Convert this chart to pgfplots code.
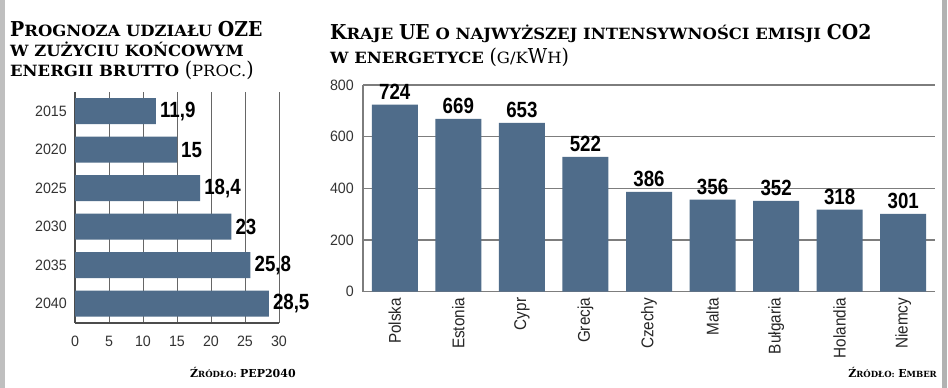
\documentclass[border=0pt]{standalone}
\usepackage{pgfplots}
\pgfplotsset{compat=1.18}
\usepackage{fontspec}
\setmainfont{Liberation Sans}
\newfontfamily\titlebig[FakeStretch=0.92]{DejaVu Serif}
\newfontfamily\titlesc[FakeStretch=1.06]{DejaVu Serif}
\newfontfamily\srcfont{DejaVu Serif}
\newfontfamily\tickfont[FakeStretch=0.95]{Liberation Sans}
\newfontfamily\numfont[FakeStretch=0.85]{Liberation Sans}
\newfontfamily\catfont[FakeStretch=0.9]{Liberation Sans}
\definecolor{barblue}{RGB}{79,108,138}
\definecolor{gridgray}{RGB}{125,125,125}
\newcommand{\Bg}[1]{{\titlebig\fontsize{20.5}{20}\selectfont #1}}
\newcommand{\Sc}[1]{{\titlesc\fontsize{15.5}{15}\selectfont #1}}
\newcommand{\TS}{\titlesc\fontsize{15.5}{15}\selectfont\bfseries}
\newcommand{\SBg}[1]{{\fontsize{11}{11}\selectfont #1}}
\newcommand{\SSc}[1]{{\fontsize{8.5}{8.5}\selectfont #1}}
\begin{document}
\begin{tikzpicture}[x=1pt,y=1pt]
\fill[white] (0,0) rectangle (948,388);
\useasboundingbox (0,0) rectangle (948,388);
\fill[black!25] (0,0) rectangle (5,388);
\fill[black!30] (942,0) rectangle (947,388);
% titles
\node[anchor=base west, inner sep=0pt] at (10,351) {\TS \Bg{P}\Sc{ROGNOZA UDZIAŁU} \Bg{OZE}};
\node[anchor=base west, inner sep=0pt] at (10,331) {\TS \Sc{W ZUŻYCIU KOŃCOWYM}};
\node[anchor=base west, inner sep=0pt] at (10,311) {\TS \Sc{ENERGII BRUTTO} {\mdseries\Bg{(}\Sc{PROC.}\Bg{)}}};
\node[anchor=base west, inner sep=0pt] at (330,348) {\TS \Bg{K}\Sc{RAJE} \Bg{UE} \Sc{O NAJWYŻSZEJ INTENSYWNOŚCI EMISJI} \Bg{CO2}};
\node[anchor=base west, inner sep=0pt] at (330,324) {\TS \Sc{W ENERGETYCE} {\mdseries\Bg{(}\Sc{G/K}\Bg{W}\Sc{H}\Bg{)}}};
% sources
\node[anchor=base west, inner sep=0pt] at (190,10) {\srcfont\bfseries \SBg{Ź}\SSc{RÓDŁO:} \SBg{PEP2040}};
\node[anchor=base east, inner sep=0pt] at (937,10) {\srcfont\bfseries \SBg{Ź}\SSc{RÓDŁO:} \SBg{E}\SSc{MBER}};
% left chart
\begin{axis}[at={(75pt,65pt)}, anchor=south west, scale only axis,
  width=204pt, height=231pt, clip=false,
  xbar, bar width=26pt,
  xmin=0, xmax=30, ymin=-0.5, ymax=5.5,
  ytick={0,...,5}, yticklabels={2040,2035,2030,2025,2020,2015},
  xtick={0,5,...,30},
  xmajorgrids, grid style={black!60, line width=1pt},
  axis x line*=bottom, axis y line*=left,
  axis line style={black!70, line width=1.2pt},
  major tick length=0pt,
  tick label style={font=\tickfont\fontsize{15}{15}\selectfont, text=black!80, inner sep=0pt},
  xticklabel style={anchor=north, yshift=-13pt},
  yticklabel style={anchor=east, xshift=-8pt},
  /pgf/number format/assume math mode=true,
  /pgf/number format/use comma,
  nodes near coords,
  nodes near coords style={font=\numfont\bfseries\fontsize{22}{22}\selectfont, anchor=west, inner sep=0pt, xshift=4pt, text=black},
]
\addplot[fill=barblue, draw=none] coordinates {(28.5,0) (25.8,1) (23,2) (18.4,3) (15,4) (11.9,5)};
\end{axis}
% right chart
\begin{axis}[at={(363pt,96.3pt)}, anchor=south west, scale only axis,
  width=572pt, height=206.7pt, clip=false,
  ybar, bar width=46pt,
  xmin=-0.5, xmax=8.5, ymin=0, ymax=800,
  xtick={0,...,8},
  xticklabels={Polska,Estonia,Cypr,Grecja,Czechy,Malta,Bułgaria,Holandia,Niemcy},
  ytick={0,200,...,800},
  ymajorgrids, grid style={gridgray, line width=1.2pt},
  axis x line*=bottom, axis y line*=left,
  axis line style={gridgray, line width=1.2pt},
  major tick length=0pt,
  tick label style={inner sep=0pt},
  yticklabel style={font=\tickfont\fontsize{15}{15}\selectfont, text=black!80, anchor=east, xshift=-9pt},
  xticklabel style={font=\catfont\fontsize{17}{17}\selectfont, text=black!85, yshift=-6pt, rotate=90, anchor=east},
  /pgf/number format/assume math mode=true,
  nodes near coords,
  nodes near coords style={font=\numfont\bfseries\fontsize{22}{22}\selectfont, anchor=south, inner sep=0pt, yshift=5pt, text=black},
]
\addplot[fill=barblue, draw=none] coordinates {(0,724) (1,669) (2,653) (3,522) (4,386) (5,356) (6,352) (7,318) (8,301)};
\end{axis}
\end{tikzpicture}
\end{document}
